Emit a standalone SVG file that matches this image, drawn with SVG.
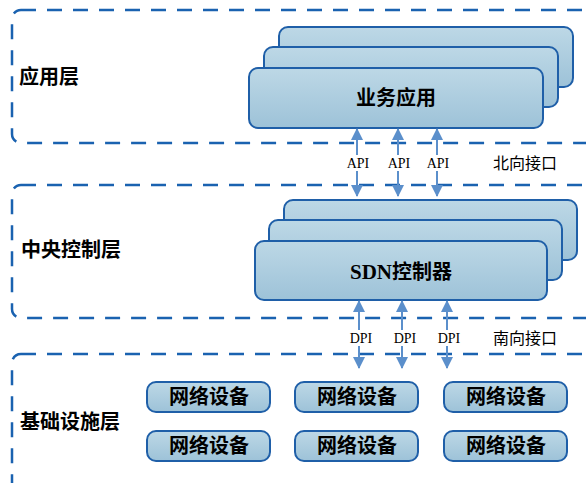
<svg xmlns="http://www.w3.org/2000/svg" width="586" height="483" viewBox="0 0 586 483">
<defs>
<linearGradient id="g" x1="0" y1="0" x2="0" y2="1">
<stop offset="0" stop-color="#bdd8e6"/>
<stop offset="1" stop-color="#9dc2d8"/>
</linearGradient>
<marker id="ah" viewBox="0 0 12 12" refX="11" refY="6" markerWidth="12" markerHeight="12" markerUnits="userSpaceOnUse" orient="auto-start-reverse">
<path d="M0,0 L12,6 L0,12 z" fill="#5b8fcb"/>
</marker>
<style>
.layer{fill:none;stroke:#1a62b0;stroke-width:2.5;stroke-dasharray:15 11}
.box{fill:url(#g);stroke:#1f5fa8;stroke-width:2}
.ttl{font-family:"Noto Sans CJK SC",sans-serif;font-weight:bold;font-size:20px;fill:#000}
.nt{font-family:"Noto Sans CJK SC",sans-serif;font-weight:bold;font-size:20px;fill:#000;text-anchor:middle}
.lbl{font-family:"Liberation Serif",serif;font-size:14px;fill:#000;text-anchor:middle}
.side{font-family:"Noto Sans CJK SC",sans-serif;font-size:16px;fill:#000}
.arr{stroke:#5b8fcb;stroke-width:2;fill:none;marker-start:url(#ah);marker-end:url(#ah)}
.bg{fill:#fff}
</style>
</defs>
<g id="layer-app">
<rect class="layer" x="12" y="10" width="620" height="133" rx="9"/>
<text class="ttl" x="19" y="84">应用层</text>
</g>
<g id="layer-ctrl">
<rect class="layer" x="12" y="185" width="620" height="133" rx="9"/>
<text class="ttl" x="21" y="257">中央控制层</text>
</g>
<g id="layer-infra">
<rect class="layer" x="12" y="354" width="620" height="160" rx="9"/>
<text class="ttl" x="20" y="429">基础设施层</text>
</g>
<g id="app">
<rect class="box" x="279" y="27" width="294" height="60" rx="9"/>
<rect class="box" x="264" y="47" width="294" height="60" rx="9"/>
<rect class="box" x="249" y="68" width="294" height="60" rx="9"/>
<text class="nt" x="396" y="105">业务应用</text>
</g>
<g id="sdn">
<rect class="box" x="284" y="200" width="293" height="60" rx="9"/>
<rect class="box" x="269" y="220" width="293" height="60" rx="9"/>
<rect class="box" x="255" y="241" width="292" height="59" rx="9"/>
<text class="nt" x="401" y="279"><tspan font-family="Liberation Serif,serif" font-size="21">SDN</tspan>控制器</text>
</g>
<g id="dev1"><rect class="box" x="147" y="382" width="123" height="30" rx="9"/><text class="nt" x="209" y="404">网络设备</text></g>
<g id="dev2"><rect class="box" x="295" y="382" width="123" height="30" rx="9"/><text class="nt" x="357" y="404">网络设备</text></g>
<g id="dev3"><rect class="box" x="444" y="382" width="123" height="30" rx="9"/><text class="nt" x="506" y="404">网络设备</text></g>
<g id="dev4"><rect class="box" x="147" y="431" width="123" height="30" rx="9"/><text class="nt" x="209" y="453">网络设备</text></g>
<g id="dev5"><rect class="box" x="295" y="431" width="123" height="30" rx="9"/><text class="nt" x="357" y="453">网络设备</text></g>
<g id="dev6"><rect class="box" x="444" y="431" width="123" height="30" rx="9"/><text class="nt" x="506" y="453">网络设备</text></g>
<g id="connectors">
<line class="arr" x1="357" y1="129" x2="357" y2="196"/>
<line class="arr" x1="398" y1="129" x2="398" y2="196"/>
<line class="arr" x1="437" y1="129" x2="437" y2="196"/>
<rect class="bg" x="344" y="155" width="27" height="16"/>
<rect class="bg" x="385" y="155" width="27" height="16"/>
<rect class="bg" x="424" y="155" width="27" height="16"/>
<text class="lbl" x="358" y="168">API</text>
<text class="lbl" x="399" y="168">API</text>
<text class="lbl" x="438" y="168">API</text>
<line class="arr" x1="359" y1="301" x2="359" y2="368"/>
<line class="arr" x1="402" y1="301" x2="402" y2="368"/>
<line class="arr" x1="447" y1="301" x2="447" y2="368"/>
<rect class="bg" x="346" y="330" width="30" height="16"/>
<rect class="bg" x="389" y="330" width="30" height="16"/>
<rect class="bg" x="434" y="330" width="30" height="16"/>
<text class="lbl" x="361" y="343">DPI</text>
<text class="lbl" x="405" y="343">DPI</text>
<text class="lbl" x="449" y="343">DPI</text>
</g>
<text class="side" x="493" y="169">北向接口</text>
<text class="side" x="493" y="344">南向接口</text>
</svg>
